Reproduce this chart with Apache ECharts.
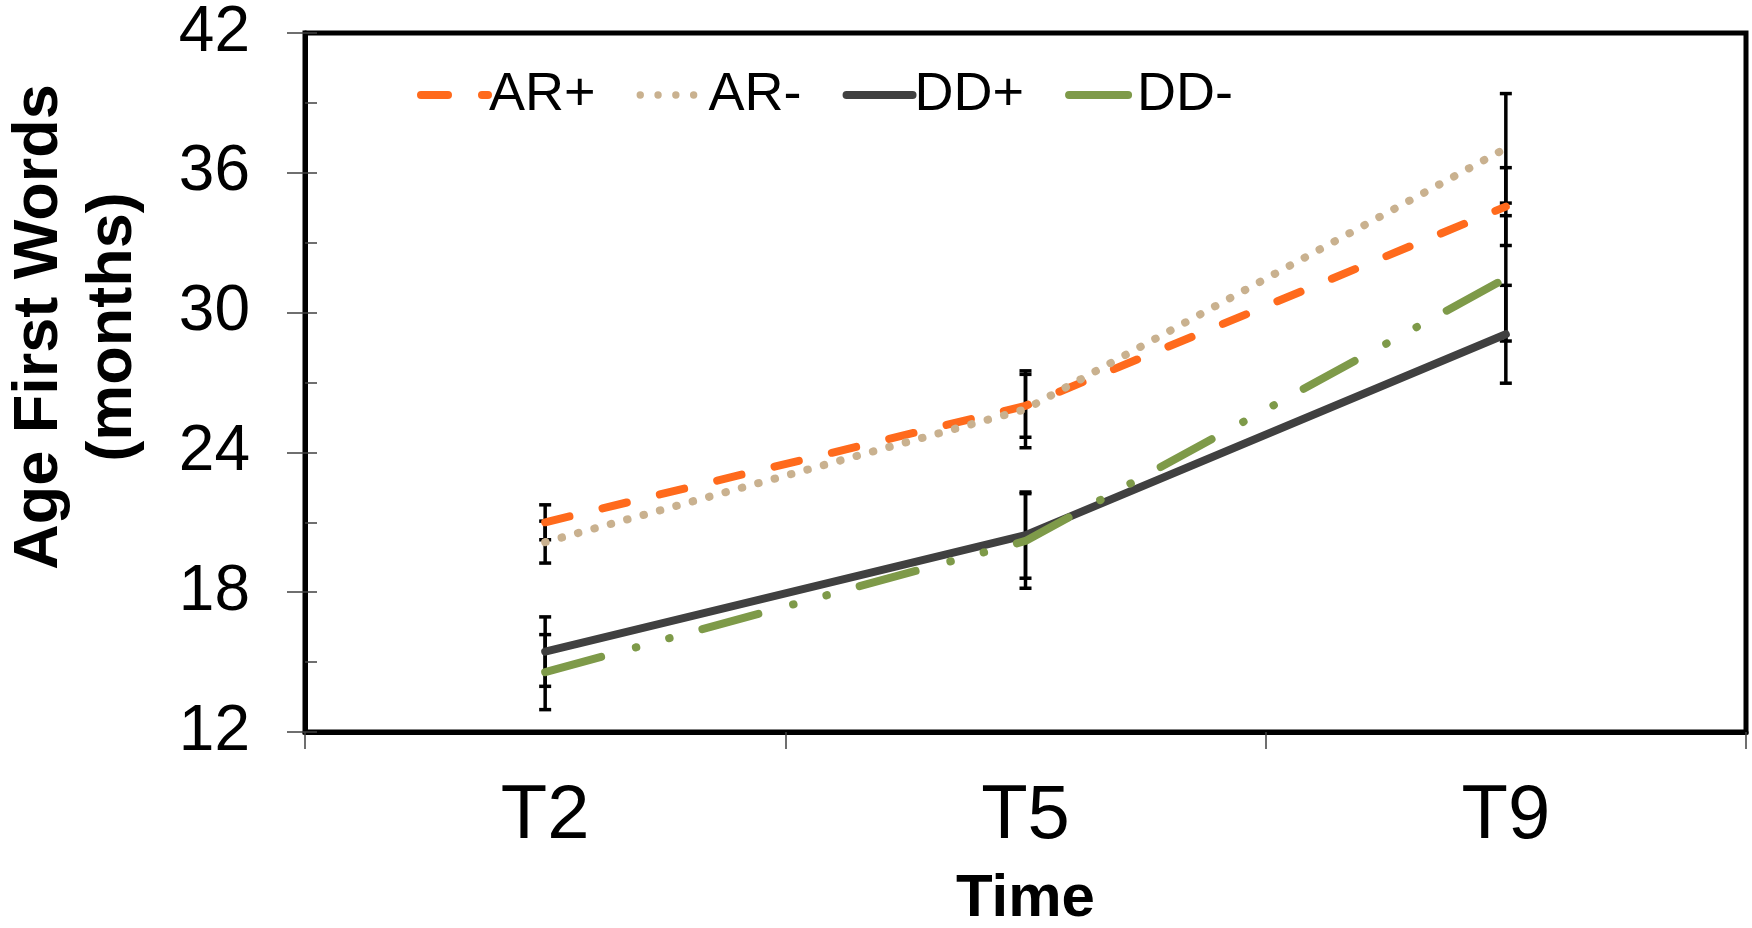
<!DOCTYPE html>
<html>
<head>
<meta charset="utf-8">
<script src="https://cdn.jsdelivr.net/npm/echarts@6/dist/echarts.min.js"></script>
<style>
  html, body { margin: 0; padding: 0; background: #ffffff; }
  #chart { width: 1752px; height: 928px; }
</style>
</head>
<body>
<div id="chart"></div>
<script>
// Measurement occasions on the x axis
const categories = ['T2', 'T5', 'T9'];

// Group names as shown in the legend
const seriesNames = ['AR+', 'AR-', 'DD+', 'DD-'];

// Mean age of first words (months) per group
const arPlus  = [21.0, 26.0, 34.55];
const arMinus = [20.15, 25.85, 37.05];
const ddPlus  = [15.45, 20.45, 29.07];
const ddMinus = [14.57, 20.2, 31.47];

// Half-length of each error bar (months)
const arPlusErr  = [0.75, 1.35, 1.67];
const arMinusErr = [0.9, 1.65, 2.35];
const ddPlusErr  = [1.49, 1.85, 2.1];
const ddMinusErr = [1.61, 2.03, 2.69];

// Value axis range and step
const yMin = 12;
const yMax = 42;
const yStep = 6;

const FONT = '"Liberation Sans", Arial, Helvetica, sans-serif';

const means = [arPlus, arMinus, ddPlus, ddMinus];
const errs = [arPlusErr, arMinusErr, ddPlusErr, ddMinusErr];

// [categoryIndex, low, high] for every bar
const errorData = [];
means.forEach((m, s) => {
  m.forEach((v, i) => {
    errorData.push([i, v - errs[s][i], v + errs[s][i]]);
  });
});

// Legend swatches are drawn as filled paths in a 75 x 8 box
const ICON_W = 75, ICON_H = 8, R = ICON_H / 2;
function capsule(a, b) {
  // rounded bar covering x in [a, b]
  return 'M' + (a + R) + ' 0 L' + (b - R) + ' 0 A' + R + ' ' + R + ' 0 0 1 ' + (b - R) + ' ' + ICON_H +
         ' L' + (a + R) + ' ' + ICON_H + ' A' + R + ' ' + R + ' 0 0 1 ' + (a + R) + ' 0 Z ';
}
function dot(cx) {
  const r = 3.7;
  return 'M' + (cx - r) + ' ' + R + ' A' + r + ' ' + r + ' 0 1 0 ' + (cx + r) + ' ' + R +
         ' A' + r + ' ' + r + ' 0 1 0 ' + (cx - r) + ' ' + R + ' Z ';
}
// zero-area anchors keep every swatch at the same box size
const frame = 'M0 0 L0 0 M' + ICON_W + ' ' + ICON_H + ' L' + ICON_W + ' ' + ICON_H + ' ';
const legendIcons = [
  'path://' + frame + capsule(0, 35) + capsule(61, 75),
  'path://' + frame + dot(3.7) + dot(21.5) + dot(39.3) + dot(57.1),
  'path://' + frame + capsule(0, 74),
  'path://' + frame + capsule(0, 67)
];

const lineStyles = [
  { color: '#FF6A1C', type: [25, 34] },
  { color: '#C9B18F', type: [0.5, 16.5] },
  { color: '#404040', type: 'solid' },
  { color: '#7E9A49', type: [58, 36, 0.5, 34, 0.5, 34] }
];

const lineSeries = seriesNames.map((name, s) => ({
  name: name,
  type: 'line',
  data: means[s],
  symbol: 'none',
  z: 3,
  color: lineStyles[s].color,
  lineStyle: {
    color: lineStyles[s].color,
    width: 8,
    type: lineStyles[s].type,
    cap: 'round',
    join: 'round'
  }
}));

const errorSeries = {
  name: 'error',
  type: 'custom',
  data: errorData,
  z: 2,
  silent: true,
  encode: { x: 0, y: [1, 2] },
  renderItem: function (params, api) {
    const i = api.value(0);
    const top = api.coord([i, api.value(2)]);
    const bot = api.coord([i, api.value(1)]);
    const half = 6;
    const style = { stroke: '#000000', lineWidth: 3.5 };
    return {
      type: 'group',
      children: [
        { type: 'line', shape: { x1: top[0], y1: top[1], x2: bot[0], y2: bot[1] }, style: style },
        { type: 'line', shape: { x1: top[0] - half, y1: top[1], x2: top[0] + half, y2: top[1] }, style: style },
        { type: 'line', shape: { x1: bot[0] - half, y1: bot[1], x2: bot[0] + half, y2: bot[1] }, style: style }
      ]
    };
  }
};

const chart = echarts.init(document.getElementById('chart'), null, { renderer: 'canvas' });

chart.setOption({
  animation: false,
  backgroundColor: '#ffffff',
  grid: {
    left: 305, right: 6, top: 33, bottom: 196,
    show: true, borderColor: '#000000', borderWidth: 5,
    containLabel: false, outerBoundsMode: 'none'
  },
  legend: {
    data: seriesNames.map((n, s) => ({ name: n, icon: legendIcons[s] })),
    left: 412,
    top: 63,
    itemWidth: ICON_W,
    itemHeight: ICON_H,
    itemGap: 41,
    itemStyle: { borderWidth: 0 },
    textStyle: { fontSize: 54, lineHeight: 54, color: '#000000', fontFamily: FONT, padding: [0, 0, 0, -8] }
  },
  xAxis: {
    type: 'category',
    data: categories,
    boundaryGap: true,
    axisLine: { show: true, lineStyle: { color: '#000000', width: 5 } },
    axisTick: { show: true, length: 17, lineStyle: { color: '#404040', width: 1.5 } },
    axisLabel: { fontSize: 76, color: '#000000', margin: 47, fontFamily: FONT },
    splitLine: { show: false },
    name: 'Time',
    nameLocation: 'middle',
    nameGap: 137,
    nameTextStyle: { fontSize: 60, fontWeight: 'bold', lineHeight: 60, color: '#000000', fontFamily: FONT }
  },
  yAxis: [
    {
      type: 'value',
      min: yMin, max: yMax, interval: yStep,
      position: 'left',
      axisLine: { show: true, lineStyle: { color: '#000000', width: 5 } },
      axisTick: { show: true, inside: false, length: 18, lineStyle: { color: '#404040', width: 1.5 } },
      axisLabel: { fontSize: 64, color: '#000000', margin: 55, fontFamily: FONT },
      splitLine: { show: false }
    },
    {
      type: 'value',
      min: yMin, max: yMax, interval: yStep,
      position: 'left',
      axisLine: { show: false },
      axisTick: { show: true, inside: true, length: 12, lineStyle: { color: '#404040', width: 1.5 } },
      minorTick: { show: true, splitNumber: 2, length: 12, lineStyle: { color: '#404040', width: 1.5 } },
      axisLabel: { show: false },
      splitLine: { show: false },
      minorSplitLine: { show: false }
    }
  ],
  graphic: [
    {
      type: 'text',
      x: 77,
      y: 327,
      rotation: Math.PI / 2,
      style: {
        text: 'Age First Words\n(months)',
        fontSize: 63,
        fontWeight: 'bold',
        fontFamily: FONT,
        lineHeight: 74,
        fill: '#000000',
        align: 'center',
        verticalAlign: 'middle',
        textAlign: 'center',
        textVerticalAlign: 'middle'
      }
    }
  ],
  series: [errorSeries].concat(lineSeries)
});
</script>
</body>
</html>
